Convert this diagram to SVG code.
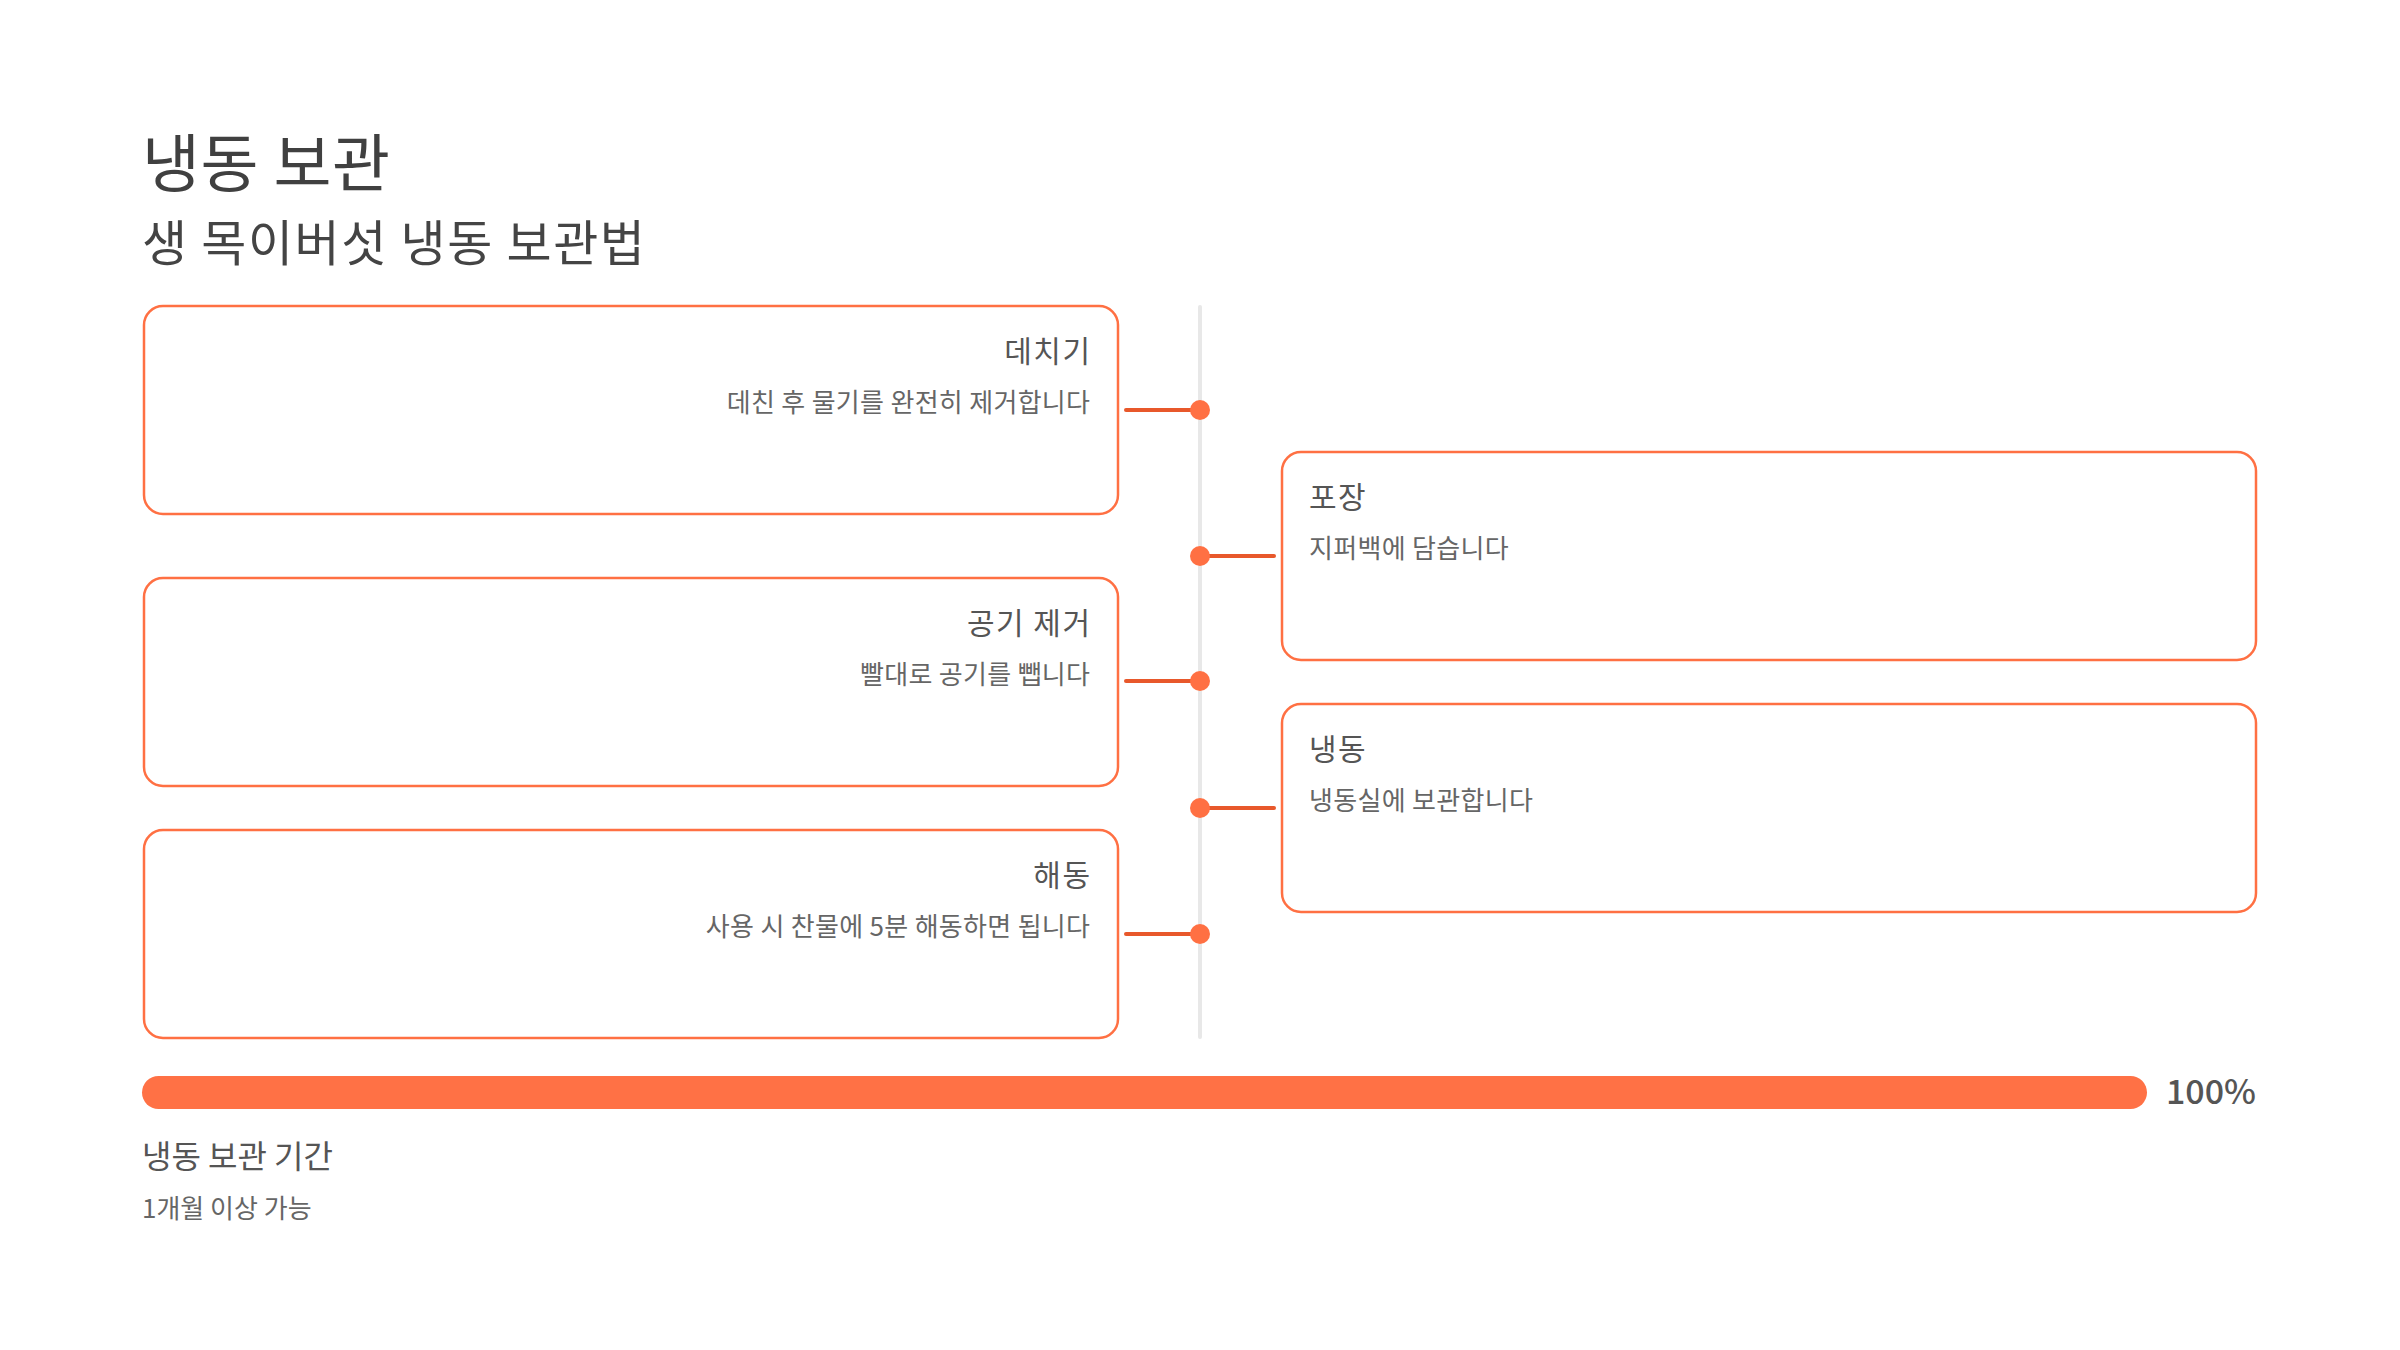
<svg xmlns="http://www.w3.org/2000/svg" width="2400" height="1350" viewBox="0 0 2400 1350">
  <style>
    text { font-family: "Noto Sans CJK KR", "Noto Sans", sans-serif; }
    .title { font-size: 63px; fill: #404040; letter-spacing: 0.5px; }
    .subtitle { font-size: 49px; fill: #444444; letter-spacing: 1.6px; }
    .card { fill: #ffffff; stroke: #FF7043; stroke-width: 2.5; }
    .ctitle { font-size: 30px; fill: #555555; letter-spacing: 1.5px; }
    .cdesc { font-size: 26px; fill: #666666; letter-spacing: 0.3px; }
    .conn { stroke: #E8582B; stroke-width: 4; stroke-linecap: round; fill: none; }
    .dot { fill: #FF7043; }
    .spine { stroke: #E8E8E8; stroke-width: 4; stroke-linecap: round; }
    .r { text-anchor: end; }
  </style>
  <rect width="2400" height="1350" fill="#ffffff"/>
  <text class="title" x="142" y="186">냉동 보관</text>
  <text class="subtitle" x="142" y="261">생 목이버섯 냉동 보관법</text>

  <line class="spine" x1="1200" y1="307" x2="1200" y2="1037"/>

  <g id="connectors">
    <line class="conn" x1="1126" y1="410" x2="1200" y2="410"/>
    <circle class="dot" cx="1200" cy="410" r="10"/>
    <line class="conn" x1="1200" y1="556" x2="1274" y2="556"/>
    <circle class="dot" cx="1200" cy="556" r="10"/>
    <line class="conn" x1="1126" y1="681" x2="1200" y2="681"/>
    <circle class="dot" cx="1200" cy="681" r="10"/>
    <line class="conn" x1="1200" y1="808" x2="1274" y2="808"/>
    <circle class="dot" cx="1200" cy="808" r="10"/>
    <line class="conn" x1="1126" y1="934" x2="1200" y2="934"/>
    <circle class="dot" cx="1200" cy="934" r="10"/>
  </g>

  <g id="step-blanch">
    <rect class="card" x="144" y="306" width="974" height="208" rx="19"/>
    <text class="ctitle r" x="1091.5" y="362">데치기</text>
    <text class="cdesc r" x="1090.3" y="412">데친 후 물기를 완전히 제거합니다</text>
  </g>
  <g id="step-pack">
    <rect class="card" x="1282" y="452" width="974" height="208" rx="19"/>
    <text class="ctitle" x="1309" y="508">포장</text>
    <text class="cdesc" x="1309" y="558">지퍼백에 담습니다</text>
  </g>
  <g id="step-air">
    <rect class="card" x="144" y="578" width="974" height="208" rx="19"/>
    <text class="ctitle r" x="1091.5" y="634">공기 제거</text>
    <text class="cdesc r" x="1090.3" y="684">빨대로 공기를 뺍니다</text>
  </g>
  <g id="step-freeze">
    <rect class="card" x="1282" y="704" width="974" height="208" rx="19"/>
    <text class="ctitle" x="1309" y="760">냉동</text>
    <text class="cdesc" x="1309" y="810">냉동실에 보관합니다</text>
  </g>
  <g id="step-thaw">
    <rect class="card" x="144" y="830" width="974" height="208" rx="19"/>
    <text class="ctitle r" x="1091.5" y="886">해동</text>
    <text class="cdesc r" x="1090.3" y="936">사용 시 찬물에 5분 해동하면 됩니다</text>
  </g>

  <g id="progress">
    <rect x="142" y="1076" width="2005" height="33" rx="16.5" fill="#FF7145"/>
    <text x="2256" y="1104" font-size="34" font-weight="500" fill="#555555" text-anchor="end">100%</text>
    <text x="142" y="1168" font-size="32" fill="#555555">냉동 보관 기간</text>
    <text x="142" y="1218" font-size="26" fill="#666666">1개월 이상 가능</text>
  </g>
</svg>
